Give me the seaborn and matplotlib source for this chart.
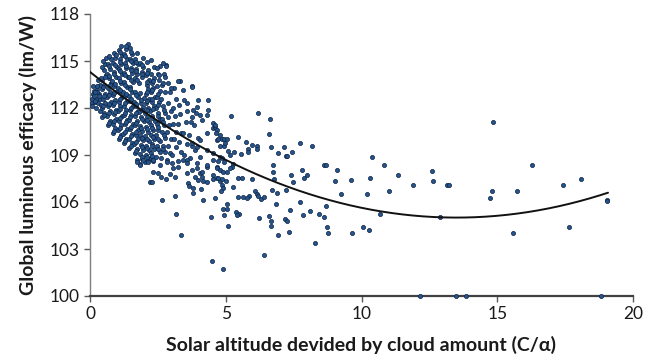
import numpy as np
import pandas as pd
import matplotlib
matplotlib.use("Agg")
import matplotlib.pyplot as plt
import seaborn as sns

# ---------------- data ----------------
# dense core of the cloud (x = C/alpha, y = efficacy lm/W)
core_pts = [
    (0.06, 112.3), (0.08, 112.6), (0.12, 112.9), (0.07, 112.1), (0.15, 113.1), (0.18, 112.4), (0.1, 113.4), (0.14, 112.75),
    (0.22, 112.0), (0.3, 112.3), (0.25, 112.6), (0.33, 112.9), (0.27, 113.2), (0.35, 113.5), (0.29, 113.8), (0.38, 111.8),
    (0.36, 112.6), (0.24, 113.4),
    (0.45, 111.4), (0.52, 111.7), (0.44, 112.0), (0.55, 112.3), (0.47, 112.6), (0.56, 112.9), (0.43, 113.2), (0.53, 113.5),
    (0.46, 113.8), (0.58, 114.1), (0.5, 114.4), (0.57, 114.8), (0.6, 115.2), (0.49, 115.0), (0.42, 113.9),
    (0.65, 110.9), (0.72, 111.2), (0.63, 111.5), (0.75, 111.8), (0.68, 112.1), (0.77, 112.4), (0.64, 112.7), (0.73, 113.0),
    (0.66, 113.3), (0.78, 113.6), (0.69, 113.9), (0.62, 114.2), (0.74, 114.5), (0.67, 114.8), (0.76, 115.1), (0.7, 115.35),
    (0.85, 110.4), (0.93, 110.7), (0.83, 111.0), (0.96, 111.3), (0.88, 111.6), (0.97, 111.9), (0.84, 112.2), (0.92, 112.5),
    (0.86, 112.8), (0.98, 113.1), (0.89, 113.4), (0.82, 113.7), (0.95, 114.0), (0.87, 114.3), (0.99, 114.6), (0.85, 114.9),
    (0.93, 115.2), (0.9, 115.5),
    (1.05, 110.0), (1.13, 110.3), (1.03, 110.6), (1.16, 110.9), (1.08, 111.2), (1.17, 111.5), (1.04, 111.8), (1.12, 112.1),
    (1.06, 112.4), (1.18, 112.7), (1.09, 113.0), (1.02, 113.3), (1.15, 113.6), (1.07, 113.9), (1.19, 114.2), (1.05, 114.5),
    (1.13, 114.8), (1.1, 115.1), (1.17, 115.4), (1.06, 115.7), (1.14, 115.95),
    (1.25, 109.75), (1.33, 110.05), (1.23, 110.35), (1.36, 110.65), (1.28, 110.95), (1.37, 111.25), (1.24, 111.55),
    (1.32, 111.85), (1.26, 112.15), (1.38, 112.45), (1.29, 112.75), (1.22, 113.05), (1.35, 113.35), (1.27, 113.65),
    (1.39, 113.95), (1.25, 114.25), (1.33, 114.55), (1.3, 114.85), (1.37, 115.15), (1.26, 115.45), (1.34, 115.75), (1.4, 116.1),
    (1.45, 109.45), (1.53, 109.75), (1.43, 110.05), (1.56, 110.35), (1.48, 110.65), (1.57, 110.95), (1.44, 111.25),
    (1.52, 111.55), (1.46, 111.85), (1.58, 112.15), (1.49, 112.45), (1.42, 112.75), (1.55, 113.05), (1.47, 113.35),
    (1.59, 113.65), (1.45, 113.95), (1.53, 114.25), (1.5, 114.55), (1.57, 114.85), (1.46, 115.15), (1.54, 115.45), (1.48, 115.8),
    (1.72, 108.7), (1.65, 109.1), (1.73, 109.4), (1.63, 109.7), (1.76, 110.0), (1.68, 110.3), (1.77, 110.6), (1.64, 110.9),
    (1.72, 111.2), (1.66, 111.5), (1.78, 111.8), (1.69, 112.1), (1.62, 112.4), (1.75, 112.7), (1.67, 113.0), (1.79, 113.6),
    (1.65, 113.9), (1.73, 114.2), (1.7, 114.5), (1.77, 114.8), (1.66, 115.1), (1.74, 115.5),
    (1.84, 108.4), (1.92, 108.75), (1.83, 109.05), (1.96, 109.35), (1.88, 109.65), (1.97, 109.95), (1.84, 110.25),
    (1.92, 110.55), (1.86, 110.85), (1.98, 111.15), (1.89, 111.45), (1.82, 111.75), (1.95, 112.05), (1.87, 112.35),
    (1.99, 112.65), (1.85, 112.95), (1.93, 114.0), (1.9, 114.3), (1.97, 114.6), (1.86, 114.9), (1.94, 115.2),
    (2.03, 108.55), (2.15, 108.7), (2.05, 109.0), (2.16, 109.3), (2.08, 109.6), (2.17, 109.9), (2.04, 110.2), (2.12, 110.5),
    (2.06, 110.8), (2.18, 111.1), (2.09, 111.4), (2.02, 111.7), (2.15, 112.0), (2.07, 112.3), (2.19, 112.6), (2.05, 112.9),
    (2.13, 113.2), (2.1, 113.5), (2.17, 113.8), (2.06, 114.1), (2.14, 114.45), (2.09, 114.95),
    (2.25, 108.8), (2.33, 108.6), (2.23, 109.1), (2.36, 109.4), (2.28, 109.7), (2.37, 110.0), (2.24, 110.3), (2.32, 110.6),
    (2.26, 110.9), (2.38, 111.2), (2.29, 111.5), (2.22, 111.8), (2.35, 112.1), (2.27, 112.4), (2.39, 112.7), (2.25, 113.0),
    (2.33, 113.3), (2.3, 113.6), (2.37, 113.9), (2.26, 114.2), (2.34, 114.6),
    (2.43, 108.9), (2.56, 109.2), (2.48, 109.6), (2.57, 109.9), (2.44, 110.3), (2.52, 110.6), (2.46, 111.0), (2.58, 111.3),
    (2.49, 111.7), (2.42, 112.0), (2.55, 112.4), (2.47, 112.7), (2.59, 113.1), (2.45, 113.4), (2.53, 113.8), (2.5, 114.2),
    (2.57, 114.7),
    (2.63, 108.8), (2.76, 109.2), (2.68, 109.6), (2.77, 110.1), (2.64, 110.5), (2.72, 110.9), (2.66, 111.3), (2.78, 111.7),
    (2.69, 112.1), (2.62, 112.6), (2.75, 113.0), (2.67, 113.5), (2.8, 114.75), (2.72, 114.2),
    (2.83, 108.7), (2.96, 109.1), (2.88, 109.6), (2.97, 110.0), (2.84, 110.5), (2.92, 110.9), (2.86, 111.4), (2.98, 111.8),
    (2.89, 112.3), (2.95, 113.0), (2.87, 113.6),
    (3.03, 109.0), (3.16, 109.5), (3.08, 110.0), (3.17, 110.5), (3.04, 111.0), (3.12, 111.5), (3.06, 112.0), (3.18, 112.6),
    (3.1, 113.3),
    (3.23, 108.6), (3.36, 109.2), (3.28, 109.8), (3.37, 110.4), (3.24, 111.0), (3.32, 111.6), (3.27, 112.2), (3.3, 113.7),
    (3.48, 109.0), (3.57, 109.7), (3.44, 110.4), (3.52, 111.1), (3.58, 111.8), (3.47, 112.5),
    (3.68, 108.8), (3.77, 109.6), (3.64, 110.3), (3.72, 111.1), (3.78, 111.9), (3.74, 113.4),
    (3.88, 109.3), (3.97, 110.1), (3.84, 110.9), (3.92, 111.7), (3.98, 112.5),
]

# extra points in the densest part of the core (between the ones above)
core_fill_pts = [
    (0.2, 112.45), (0.32, 112.75), (0.26, 113.05), (0.4, 112.2), (0.18, 113.0),
    (0.5, 111.55), (0.49, 112.15), (0.51, 112.75), (0.48, 113.35), (0.54, 114.0), (0.45, 114.6),
    (0.7, 111.05), (0.69, 111.65), (0.71, 112.25), (0.7, 112.85), (0.72, 113.45), (0.7, 114.05), (0.71, 114.65),
    (0.9, 110.55), (0.9, 111.15), (0.91, 111.75), (0.89, 112.35), (0.9, 112.95), (0.91, 113.55), (0.88, 114.15),
    (0.92, 114.75), (0.95, 115.4),
    (1.1, 110.15), (1.1, 110.75), (1.11, 111.35), (1.09, 111.95), (1.1, 112.55), (1.11, 113.15), (1.09, 113.75),
    (1.1, 114.35), (1.11, 114.95), (1.1, 115.55),
    (1.3, 109.9), (1.3, 110.5), (1.31, 111.1), (1.29, 111.7), (1.3, 112.3), (1.31, 112.9), (1.29, 113.5), (1.3, 114.1),
    (1.31, 114.7), (1.3, 115.3), (1.32, 115.95),
    (1.5, 109.6), (1.5, 110.2), (1.51, 110.8), (1.49, 111.4), (1.5, 112.0), (1.51, 112.6), (1.49, 113.2), (1.5, 113.8),
    (1.51, 114.4), (1.5, 115.0), (1.52, 115.6),
    (1.7, 109.25), (1.7, 109.85), (1.71, 110.45), (1.69, 111.05), (1.7, 111.65), (1.71, 112.25), (1.69, 112.85),
    (1.72, 113.8), (1.7, 114.35), (1.71, 114.95),
    (1.9, 108.9), (1.9, 109.5), (1.91, 110.1), (1.89, 110.7), (1.9, 111.3), (1.91, 111.9), (1.89, 112.5), (1.9, 114.15),
    (1.91, 114.75),
    (2.1, 108.85), (2.1, 109.45), (2.11, 110.05), (2.09, 110.65), (2.1, 111.25), (2.11, 111.85), (2.09, 112.45),
    (2.1, 113.05), (2.11, 113.65), (2.1, 114.25),
    (2.3, 108.95), (2.3, 109.55), (2.31, 110.15), (2.29, 110.75), (2.3, 111.35), (2.31, 111.95), (2.29, 112.55),
    (2.3, 113.15), (2.31, 113.75),
    (2.5, 109.4), (2.5, 110.05), (2.51, 110.8), (2.49, 111.5), (2.5, 112.2), (2.51, 112.9),
    (2.7, 109.4), (2.71, 110.3), (2.7, 111.1), (2.71, 111.9),
]

# fringe of the cloud (x roughly 2 - 5)
mid_pts = [
    (2.68, 114.85), (2.8, 114.7), (3.25, 113.72), (3.74, 113.36), (3.44, 113.15), (2.97, 113.25), (2.7, 113.57),
    (2.55, 114.1), (2.76, 114.0), (2.25, 115.06), (2.46, 114.53),
    (4.36, 112.51), (4.36, 111.87), (4.3, 111.55), (4.54, 110.7), (4.6, 110.8),
    (3.56, 112.3), (3.93, 112.08), (4.05, 111.55), (3.74, 111.44), (4.11, 111.23), (4.54, 111.02), (4.3, 110.38),
    (4.79, 110.27), (4.67, 109.96), (4.05, 109.96), (3.74, 109.74), (3.93, 109.53), (4.3, 109.32), (4.54, 109.11),
    (4.79, 108.89), (4.05, 108.89), (3.56, 108.68), (3.93, 108.47), (4.3, 108.25), (4.67, 108.25), (5.03, 107.93),
    (3.56, 107.83), (4.05, 107.83), (4.54, 107.72),
    (2.33, 107.93), (2.15, 108.57), (1.84, 108.36), (1.72, 108.57), (1.96, 108.68), (2.33, 108.68), (2.58, 108.36),
    (2.82, 108.57), (3.01, 108.47), (3.07, 108.15), (3.25, 108.25), (3.44, 108.68), (3.56, 108.47), (3.74, 108.04),
    (3.93, 108.15), (4.11, 107.93), (4.3, 108.36), (4.54, 108.68), (3.87, 107.62), (4.11, 107.62),
    (2.64, 106.11), (3.13, 106.38), (3.17, 105.21), (4.44, 105.06), (3.78, 106.6), (4.09, 106.81), (4.15, 106.13),
    (2.21, 107.29), (2.27, 107.26), (2.52, 107.83), (2.62, 107.57), (2.8, 107.45), (2.95, 107.79), (3.13, 107.61),
    (3.6, 107.19), (3.65, 107.04), (3.8, 106.91), (3.99, 107.40), (4.17, 107.34), (4.32, 107.29), (4.54, 107.45),
    (4.69, 107.51), (4.79, 107.34), (3.34, 103.87), (4.51, 102.25),
    (4.6, 110.9), (4.67, 110.6), (4.63, 110.4), (4.72, 110.0), (4.85, 110.0), (4.93, 110.0), (5.05, 110.0),
    (4.8, 109.6), (4.93, 109.6), (4.97, 109.75),
]

# sparse tail (x > 4.5)
tail_pts = [
    (4.91, 101.72), (6.42, 102.62), (8.29, 103.36), (6.94, 103.89), (7.33, 104.1), (8.78, 104.04), (8.72, 104.38),
    (6.67, 104.49), (6.67, 104.79), (6.61, 105.1), (6.21, 104.96), (5.07, 104.49), (7.18, 104.94), (7.27, 104.79),
    (7.37, 105.49), (6.86, 105.85), (7.85, 105.17), (8.12, 105.45), (8.43, 105.23), (8.63, 105.04), (7.75, 106.02),
    (8.71, 105.74), (8.61, 108.36), (8.70, 108.36), (7.82, 108.04), (8.0, 107.72), (7.88, 107.53), (7.49, 107.30),
    (7.40, 107.72), (7.23, 106.78), (6.75, 107.91), (6.75, 108.36), (6.79, 107.47), (6.71, 106.76), (6.88, 106.55),
    (7.22, 108.93), (5.98, 107.47), (6.09, 106.72), (6.15, 106.51), (6.2, 106.40), (6.30, 106.17), (6.42, 106.34),
    (5.84, 106.40), (5.77, 106.23), (5.64, 106.34), (5.44, 106.30), (5.26, 106.98), (5.44, 107.51), (5.61, 107.51),
    (5.05, 105.85), (4.91, 105.55), (5.03, 105.55), (4.94, 105.17), (5.38, 105.34), (5.49, 105.25), (5.41, 105.17),
    (5.28, 108.40), (5.22, 108.25), (5.16, 108.15), (4.73, 108.64), (4.87, 108.79), (4.95, 108.57), (4.67, 108.15),
    (4.79, 108.04), (4.91, 107.93), (4.73, 107.51), (4.85, 107.47), (5.0, 107.36), (4.85, 107.08), (4.91, 106.87),
    (4.82, 106.7), (4.6, 106.27),
    (5.19, 111.51), (6.2, 111.66), (6.64, 111.32), (6.6, 110.34), (5.46, 110.13), (5.73, 109.81), (5.97, 109.64),
    (6.14, 109.57), (6.16, 109.36), (6.67, 109.49), (7.15, 109.51), (7.73, 109.74), (8.16, 109.57), (7.45, 109.21),
    (6.91, 109.15), (7.24, 108.95), (5.81, 109.36), (5.83, 109.17), (5.56, 109.04), (5.32, 109.21), (5.09, 109.27),
    (5.16, 109.0),
    (14.86, 111.12), (10.39, 108.85), (10.84, 108.36), (9.09, 108.02), (12.61, 107.98), (16.28, 108.36), (11.36, 107.72),
    (9.02, 107.34), (9.6, 107.38), (10.30, 107.53), (12.62, 107.32), (11.9, 107.08), (13.15, 107.08), (13.22, 107.06),
    (18.07, 107.49), (17.41, 107.08), (9.24, 106.49), (10.20, 106.53), (11.03, 106.7), (14.79, 106.7), (14.75, 106.28),
    (15.73, 106.7), (19.05, 106.13), (19.05, 106.05), (10.68, 105.21), (12.9, 105.04), (9.65, 104.02), (10.07, 104.38),
    (10.28, 104.21), (15.57, 104.02), (17.63, 104.38),
    (12.15, 100.0), (13.48, 100.0), (13.85, 100.0), (18.81, 100.0),
]

# polynomial trend line (2nd order) y = a*x^2 + b*x + c
fit_coef = [0.051, -1.377, 114.3]
fit_range = [0.0, 19.08]

x_ticks = [0, 5, 10, 15, 20]
y_ticks = [100, 103, 106, 109, 112, 115, 118]
x_label = "Solar altitude devided by cloud amount (C/\u03b1)"
y_label = "Global luminous efficacy (lm/W)"

# ---------------- plotting ----------------
sns.set_theme(style="white")
plt.rcParams["font.family"] = ["Lato", "DejaVu Sans"]

pts = core_pts + core_fill_pts + mid_pts + tail_pts
df = pd.DataFrame(pts, columns=["ratio", "efficacy"])

xf = np.linspace(fit_range[0], fit_range[1], 200)
fit_df = pd.DataFrame({"ratio": xf, "efficacy": np.polyval(fit_coef, xf)})

fig = plt.figure(figsize=(6.61, 3.63), dpi=100)
ax = fig.add_axes([90 / 661, 1 - 296 / 363, (633 - 90) / 661, (296 - 14) / 363])

sns.scatterplot(data=df, x="ratio", y="efficacy", ax=ax, s=9,
                color="#27548a", edgecolor="#0c2444", linewidth=0.5, zorder=3, clip_on=False)
sns.lineplot(data=fit_df, x="ratio", y="efficacy", ax=ax, color="#111111", linewidth=1.4, zorder=4)

ax.set_xlim(0, 20)
ax.set_ylim(100, 118)
ax.set_xticks(x_ticks)
ax.set_yticks(y_ticks)
ax.set_xticklabels([str(t) for t in x_ticks])
ax.set_yticklabels([str(t) for t in y_ticks])

for s in ["top", "right"]:
    ax.spines[s].set_visible(False)
ax.spines["left"].set_color("#7f7f7f")
ax.spines["left"].set_linewidth(1.0)
ax.spines["bottom"].set_color("#404040")
ax.spines["bottom"].set_linewidth(1.6)

ax.tick_params(axis="both", which="major", direction="out", length=4.5, width=1.0,
               color="#5a5a5a", labelsize=12.5, labelcolor="#1a1a1a", pad=3, left=True, bottom=True)

ax.set_xlabel(x_label, fontsize=14, fontweight="bold", color="#1a1a1a", labelpad=10)
ax.set_ylabel(y_label, fontsize=14, fontweight="bold", color="#1a1a1a", labelpad=9)

fig.savefig("out.png", dpi=100)
